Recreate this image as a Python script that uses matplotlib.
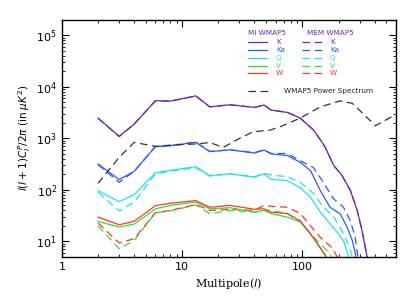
import matplotlib
matplotlib.use("Agg")
import matplotlib.pyplot as plt
import numpy as np

# ---- data ----
l_low = [2, 3, 4, 6, 8, 13, 17, 25, 40, 48, 55, 75, 96]

K_mi_hi_l = [124, 146, 155, 182, 214, 251, 286, 314, 341, 370]
K_mi = [2480, 1100, 1900, 5400, 5300, 6700, 4100, 4500, 4000, 4450, 3550, 3200, 2480,
        1450, 840, 670, 300, 190, 97, 40, 16, 5.9, 2]
K_mem_hi_l = [124, 146, 155, 182, 214, 251, 286, 314, 341, 370]
K_mem = [2460, 1080, 1900, 5350, 5300, 6650, 4100, 4480, 4000, 4450, 3550, 3200, 2480,
         1450, 840, 670, 300, 190, 97, 40, 16, 5.9, 2]

Ka_mi_hi_l = [117, 141, 170, 207, 236, 260, 280, 300]
Ka_mi = [318, 158, 230, 690, 720, 840, 553, 600, 521, 595, 500, 465, 343,
         237, 97, 46, 34, 18.7, 10.5, 5, 2.5]
Ka_mem_hi_l = [124, 146, 182, 220, 251, 275, 290, 310]
Ka_mem = [310, 140, 230, 700, 730, 850, 560, 600, 530, 600, 510, 510, 370,
          270, 152, 67, 46, 25, 12, 5, 2.5]

Q_mi_hi_l = [117, 141, 170, 195, 220, 243, 260]
Q_mi = [97, 59, 81, 214, 240, 282, 190, 205, 177, 205, 160, 152, 110,
        72, 37, 22, 15, 10.3, 5, 3]
Q_mem_hi_l = [124, 146, 182, 214, 243, 260, 275]
Q_mem = [90, 39, 58, 205, 230, 270, 185, 205, 180, 210, 195, 180, 141,
         85, 50, 30, 16, 8.4, 5, 3]

V_mi_hi_l = [117, 141, 155, 175]
V_mi = [24.6, 19, 21.7, 43, 50, 58, 43, 45, 37, 40, 34.7, 29.5, 24,
        14, 7.5, 5.4, 3]
V_mem_hi_l = [117, 141, 170, 185]
V_mem = [20, 7.2, 10.5, 36, 39, 51, 34.7, 40, 37, 40, 40, 34.7, 24,
         14, 9, 5.7, 3.5]

W_mi_hi_l = [117, 141, 155, 175]
W_mi = [29.6, 21, 24.6, 49.5, 55, 62, 46, 50, 42, 43, 37, 34.7, 25,
        14, 7.5, 5.4, 3]
W_mem_hi_l = [117, 141, 177, 195, 215]
W_mem = [22.7, 9.3, 11.3, 36, 40, 52, 40, 42, 40, 50, 48, 46, 35,
         20, 12, 7.5, 5, 3]

ps_l = [2, 3, 4, 6, 8, 13, 17, 22, 30, 39, 54, 66, 96, 141, 207, 260, 323, 405, 540, 600]
ps_v = [134, 430, 837, 700, 740, 780, 830, 670, 1000, 1345, 1450, 1700, 2480, 4100,
        5360, 4790, 2960, 1760, 2550, 2700]

bands = ["K", "Ka", "Q", "V", "W"]
colors = ["#6a2aa8", "#2a5cf0", "#22e0f0", "#3ad83a", "#f23c2a"]

mi_series = [(K_mi_hi_l, K_mi), (Ka_mi_hi_l, Ka_mi), (Q_mi_hi_l, Q_mi),
             (V_mi_hi_l, V_mi), (W_mi_hi_l, W_mi)]
mem_series = [(K_mem_hi_l, K_mem), (Ka_mem_hi_l, Ka_mem), (Q_mem_hi_l, Q_mem),
              (V_mem_hi_l, V_mem), (W_mem_hi_l, W_mem)]

# ---- figure ----
fig = plt.figure(figsize=(4.15, 2.97), dpi=100)
ax = fig.add_axes([0.149, 0.135, 0.805, 0.798])
ax.set_xscale("log")
ax.set_yscale("log")

dash = (0, (6, 3.7))
for (hl, v), c in zip(mem_series, colors):
    ax.plot(l_low + hl, v, color=c, lw=0.9, linestyle=dash)
for (hl, v), c in zip(mi_series, colors):
    ax.plot(l_low + hl, v, color=c, lw=0.9)
ax.plot(ps_l, ps_v, color="#333333", lw=0.9, linestyle=dash)

ax.set_xlim(1, 600)
ax.set_ylim(5, 2e5)

for s in ax.spines.values():
    s.set_linewidth(1.0)
ax.tick_params(which="both", direction="in", top=True, right=True)
ax.tick_params(which="major", length=5, width=0.8, labelsize=8)
ax.tick_params(which="minor", length=2.5, width=0.6)
ax.xaxis.set_major_formatter(matplotlib.ticker.FuncFormatter(lambda x, p: f"{x:g}"))

ax.set_xlabel(r"Multipole($l$)", fontsize=8, family="DejaVu Serif", labelpad=3)
ax.set_ylabel(r"$l(l+1)C_l^P/2\pi$ (in $\mu K^2$)", fontsize=7.5, labelpad=2)

# ---- legend as text ----
tr = ax.transAxes
fs = 5.2
ax.text(0.557, 0.946, "MI WMAP5", color=colors[0], fontsize=fs, transform=tr, va="center")
ax.text(0.734, 0.946, "MEM WMAP5", color=colors[0], fontsize=fs, transform=tr, va="center")
rows = [0.906, 0.873, 0.840, 0.807, 0.774]
for b, c, y in zip(bands, colors, rows):
    ax.plot([0.557, 0.614], [y, y], color=c, lw=0.9, transform=tr)
    ax.text(0.641, y, b, color=c, fontsize=fs, transform=tr, va="center")
    ax.plot([0.719, 0.784], [y, y], color=c, lw=0.9, linestyle=dash, transform=tr)
    ax.text(0.802, y, b, color=c, fontsize=fs, transform=tr, va="center")
ax.plot([0.557, 0.629], [0.702, 0.702], color="#333333", lw=0.9, linestyle=dash, transform=tr)
ax.text(0.665, 0.702, "WMAP5 Power Spectrum", color="#222222", fontsize=fs,
        transform=tr, va="center")

fig.savefig("out.png", dpi=100)
